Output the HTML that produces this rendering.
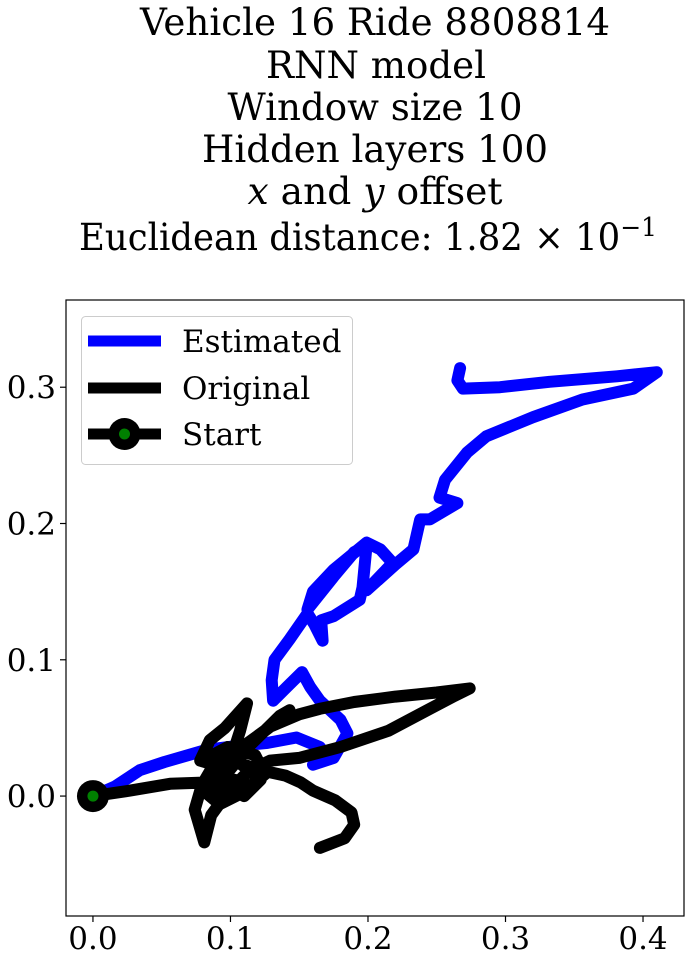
<!DOCTYPE html>
<html><head><meta charset="utf-8"><style>
html,body{margin:0;padding:0;background:#fff;}
svg{display:block;font-family:"DejaVu Serif","Liberation Serif",serif;}
</style></head><body>
<svg id="chart" width="693" height="963" viewBox="0 0 693 963" xmlns="http://www.w3.org/2000/svg">
<g font-size="37" text-anchor="middle" fill="#000">
<text x="375" y="35" textLength="470" lengthAdjust="spacingAndGlyphs">Vehicle 16 Ride 8808814</text>
<text x="376" y="78" textLength="220" lengthAdjust="spacingAndGlyphs">RNN model</text>
<text x="375" y="120" textLength="295" lengthAdjust="spacingAndGlyphs">Window size 10</text>
<text x="375" y="162" textLength="346" lengthAdjust="spacingAndGlyphs">Hidden layers 100</text>
<text x="375" y="204" textLength="255" lengthAdjust="spacingAndGlyphs"><tspan font-style="italic">x</tspan> and <tspan font-style="italic">y</tspan> offset</text>
<text x="368" y="250" textLength="578" lengthAdjust="spacingAndGlyphs">Euclidean distance: 1.82 × 10<tspan dy="-14" font-size="26">−1</tspan></text>
</g>
<g id="plot"></g>
</svg>
<script>
const xTicks=[0.0,0.1,0.2,0.3,0.4];
const yTicks=[0.0,0.1,0.2,0.3];
const xTickLabels=["0.0","0.1","0.2","0.3","0.4"];
const yTickLabels=["0.0","0.1","0.2","0.3"];
const xDomain=[-0.0196,0.4298];
const yDomain=[-0.0880,0.3640];
const estX=[0,0.016,0.034,0.052,0.083,0.107,0.127,0.148,0.165,0.170,0.160,0.175,0.185,0.180,0.165,0.158,0.152,0.141,0.131,0.130,0.132,0.143,0.156,0.161,0.167,0.166,0.175,0.194,0.196,0.199,0.190,0.175,0.156,0.160,0.175,0.199,0.209,0.218,0.199,0.220,0.233,0.238,0.245,0.265,0.252,0.256,0.272,0.286,0.320,0.356,0.393,0.410,0.381,0.332,0.296,0.269,0.265,0.267];
const estY=[0,0.007,0.019,0.025,0.034,0.037,0.039,0.043,0.036,0.028,0.023,0.028,0.046,0.056,0.070,0.080,0.091,0.080,0.070,0.085,0.100,0.115,0.134,0.126,0.114,0.129,0.132,0.144,0.153,0.184,0.179,0.161,0.137,0.150,0.166,0.186,0.181,0.171,0.151,0.170,0.181,0.203,0.203,0.215,0.219,0.232,0.252,0.264,0.278,0.291,0.299,0.311,0.308,0.304,0.300,0.299,0.305,0.314];
const origX=[0,0.027,0.056,0.085,0.103,0.078,0.074,0.081,0.086,0.099,0.114,0.129,0.150,0.180,0.215,0.245,0.262,0.274,0.250,0.220,0.190,0.165,0.150,0.129,0.111,0.088,0.078,0.085,0.096,0.112,0.107,0.100,0.089,0.096,0.114,0.136,0.143,0.129,0.114,0.100,0.085,0.078,0.092,0.108,0.125,0.118,0.098,0.083,0.090,0.110,0.122,0.107,0.122,0.140,0.151,0.160,0.176,0.188,0.190,0.183,0.165];
const origY=[0,0.004,0.009,0.010,0.012,0.004,-0.010,-0.034,-0.014,0.004,0.019,0.026,0.028,0.036,0.048,0.064,0.073,0.079,0.076,0.073,0.069,0.064,0.060,0.051,0.037,0.023,0.026,0.041,0.050,0.068,0.048,0.026,0.004,0.015,0.037,0.059,0.063,0.051,0.040,0.030,0.018,0.006,-0.006,0.002,0.016,0.030,0.036,0.028,0.010,0.000,0.012,0.024,0.019,0.015,0.010,0.004,-0.003,-0.012,-0.021,-0.031,-0.038];
const startPt=[0,0];

const L=66,R=684,T=300,B=916;
const sx=v=>L+(v-xDomain[0])/(xDomain[1]-xDomain[0])*(R-L);
const sy=v=>B-(v-yDomain[0])/(yDomain[1]-yDomain[0])*(B-T);
const NS="http://www.w3.org/2000/svg";
const svg=document.getElementById('chart');
const plot=document.getElementById('plot');
function mk(tag,attrs,parent){const e=document.createElementNS(NS,tag);for(const k in attrs)e.setAttribute(k,attrs[k]);(parent||plot).appendChild(e);return e;}

const frame=mk('rect',{x:L,y:T,width:R-L,height:B-T,fill:'none',stroke:'#000','stroke-width':1.2});



function pathD(xs,ys){return xs.map((v,i)=>(i?'L':'M')+sx(v).toFixed(1)+' '+sy(ys[i]).toFixed(1)).join(' ');}
const est=mk('path',{d:pathD(estX,estY),fill:'none',stroke:'#0000ff','stroke-width':12,'stroke-linejoin':'round','stroke-linecap':'round'});


const orig=mk('path',{d:pathD(origX,origY),fill:'none',stroke:'#000','stroke-width':12,'stroke-linejoin':'round','stroke-linecap':'round'});


const sm=mk('circle',{cx:sx(startPt[0]),cy:sy(startPt[1]),r:16,fill:'#000'});


const sm2=mk('circle',{cx:sx(startPt[0]),cy:sy(startPt[1]),r:5.5,fill:'#008000'});



xTicks.forEach((v,i)=>{
  const t=mk('line',{x1:sx(v),x2:sx(v),y1:B,y2:B+6,stroke:'#000','stroke-width':1.2});
  
  
  const tx=mk('text',{x:sx(v),y:949,'font-size':31,'text-anchor':'middle'});
  tx.textContent=xTickLabels[i];
  
  
});
yTicks.forEach((v,i)=>{
  const t=mk('line',{x1:L-6,x2:L,y1:sy(v),y2:sy(v),stroke:'#000','stroke-width':1.2});
  
  
  const tx=mk('text',{x:56,y:sy(v)+11,'font-size':31,'text-anchor':'end'});
  tx.textContent=yTickLabels[i];
  
  
});

const lg=mk('g',{});


mk('rect',{x:81.5,y:316.5,width:271,height:148,rx:4,fill:'#fff','fill-opacity':0.8,stroke:'#ccc','stroke-width':1},lg);
const entries=[['Estimated','#0000ff',341,false],['Original','#000',388,false],['Start','#000',434,true]];
entries.forEach(e=>{
  const g=mk('g',{},lg);
  
  
  mk('line',{x1:88,x2:161,y1:e[2],y2:e[2],stroke:e[1],'stroke-width':11},g);
  if(e[3]){mk('circle',{cx:124.5,cy:e[2],r:16,fill:'#000'},g);mk('circle',{cx:124.5,cy:e[2],r:5.5,fill:'#008000'},g);}
  const t=mk('text',{x:182,y:e[2]+11,'font-size':31},g);
  t.textContent=e[0];
});
</script>
</body></html>
